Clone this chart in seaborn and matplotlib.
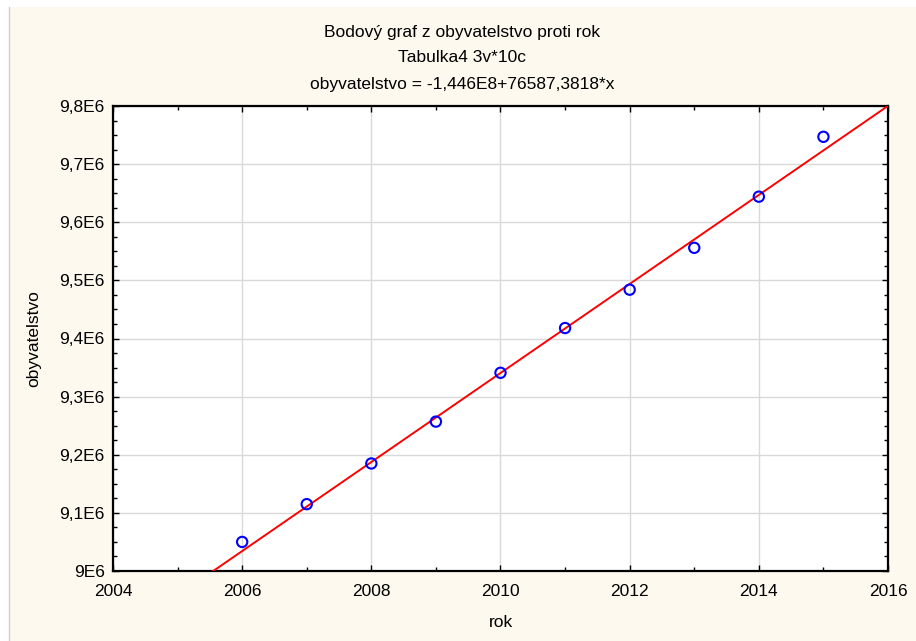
import numpy as np
import pandas as pd
import matplotlib
matplotlib.use("Agg")
import matplotlib.pyplot as plt
from matplotlib.ticker import FuncFormatter, MultipleLocator
from matplotlib.patches import Rectangle
from matplotlib.lines import Line2D
import seaborn as sns

# Population by year
rok = [2006, 2007, 2008, 2009, 2010, 2011, 2012, 2013, 2014, 2015]
obyvatelstvo = [9.050e6, 9.115e6, 9.185e6, 9.257e6, 9.341e6,
                9.418e6, 9.484e6, 9.556e6, 9.644e6, 9.747e6]

# Linear fit stated in the title
intercept = -1.446e8
slope = 76587.3818

title_lines = ["Bodový graf z obyvatelstvo proti rok",
               "Tabulka4 3v*10c",
               "obyvatelstvo = -1,446E8+76587,3818*x"]

sns.set_theme(style="white")
plt.rcParams["font.family"] = ["Liberation Sans", "DejaVu Sans"]

FS = 12.5
W, H = 916, 641
fig = plt.figure(figsize=(W / 100, H / 100), dpi=100, facecolor="white")

# cream panel and its thin left edge
fig.patches.append(Rectangle((9 / W, 0), 1 - 9 / W, 1 - 7 / H, transform=fig.transFigure,
                             facecolor="#fef9ef", edgecolor="none", zorder=-5))
fig.lines.append(Line2D([8.5 / W, 8.5 / W], [0, 1 - 7 / H], transform=fig.transFigure,
                        color="#d0d0d0", lw=1, zorder=-4))

left, right, top, bottom = 113, 888, 106, 571
ax = fig.add_axes([left / W, 1 - bottom / H, (right - left) / W, (bottom - top) / H])
ax.set_zorder(2)
ax.set_facecolor("white")

df = pd.DataFrame({"rok": rok, "obyvatelstvo": obyvatelstvo})
xs = np.array([2004.0, 2016.0])
fit = pd.DataFrame({"rok": xs, "obyvatelstvo": intercept + slope * xs})

sns.lineplot(data=fit, x="rok", y="obyvatelstvo", ax=ax, color="#ff0000", lw=1.4, zorder=3)
sns.scatterplot(data=df, x="rok", y="obyvatelstvo", ax=ax, s=55, facecolor="none",
                edgecolor="#0000ff", linewidth=1.5, zorder=4)

ax.set_xlim(2004, 2016)
ax.set_ylim(9.0e6, 9.8e6)
ax.xaxis.set_major_locator(MultipleLocator(2))
ax.xaxis.set_minor_locator(MultipleLocator(1))
ax.yaxis.set_major_locator(MultipleLocator(0.1e6))
ax.yaxis.set_minor_locator(MultipleLocator(0.025e6))


def fmt_y(v, pos):
    s = f"{v / 1e6:.1f}".rstrip("0").rstrip(".")
    return s.replace(".", ",") + "E6"


ax.yaxis.set_major_formatter(FuncFormatter(fmt_y))
ax.xaxis.set_major_formatter(FuncFormatter(lambda v, p: f"{int(round(v))}"))

ax.grid(True, which="major", color="#d9d9d9", lw=1)
ax.set_axisbelow(True)
for sp in ax.spines.values():
    sp.set_visible(True)
    sp.set_color("black")
    sp.set_linewidth(1.6)

ax.tick_params(which="both", direction="in", top=True, right=True, bottom=True, left=True,
               color="black", labelsize=FS, labelcolor="black")
ax.tick_params(which="major", length=4, width=1, pad=6)
ax.tick_params(axis="x", which="major", pad=9)
ax.tick_params(which="minor", length=3, width=1)

ax.set_xlabel("rok", fontsize=FS, color="black", labelpad=12)
ax.set_ylabel("obyvatelstvo", fontsize=FS, color="black", labelpad=13)

cx = (9 + W) / 2 / W
for i, t in enumerate(title_lines):
    fig.text(cx, 1 - (32 + 26 * i) / H, t, ha="center", va="center", fontsize=FS, color="black")

fig.savefig("out.png", dpi=100, facecolor=fig.get_facecolor())
